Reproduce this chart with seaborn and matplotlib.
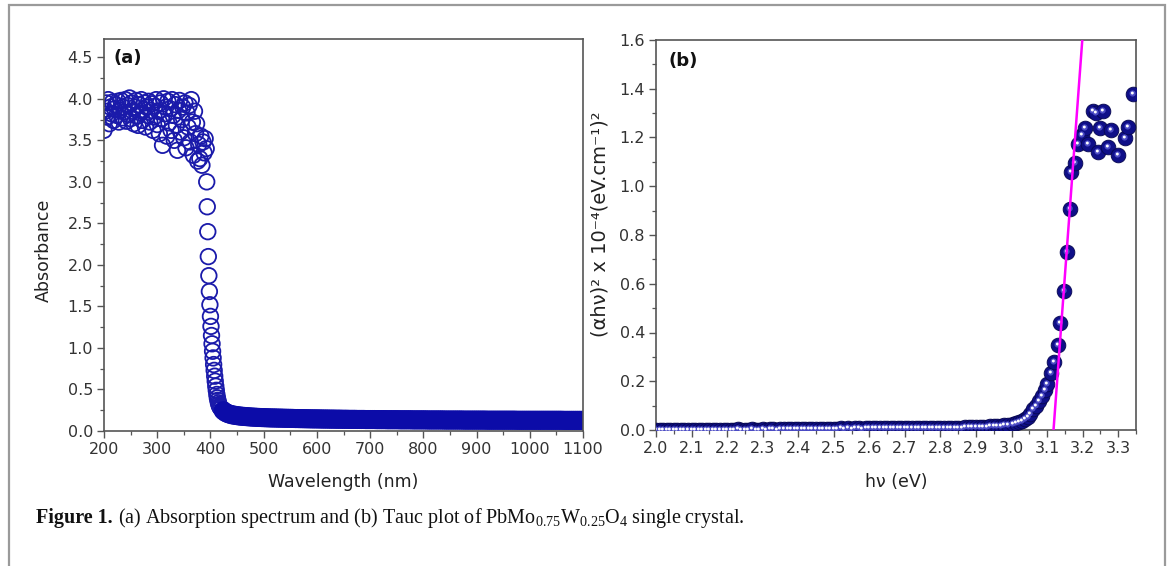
import numpy as np
import matplotlib
matplotlib.use("Agg")
import matplotlib.pyplot as plt
import seaborn as sns
from matplotlib.ticker import MultipleLocator, FormatStrFormatter
from matplotlib.path import Path
from matplotlib.patches import Rectangle

sns.set_style("ticks")
plt.rcParams['font.family'] = ['DejaVu Sans']

# ---- (a) absorption spectrum ----
plateau_nm = list(range(200, 393, 2))
plateau_abs = [3.62, 3.85, 3.95, 3.78, 3.99, 3.70, 3.90, 3.82, 3.96, 3.74,
               3.88, 3.93, 3.80, 3.97, 3.72, 3.86, 3.98, 3.77, 3.90, 3.84,
               3.99, 3.73, 3.92, 3.81, 4.01, 3.76, 3.95, 3.85, 3.70, 3.90,
               3.98, 3.79, 3.68, 3.93, 3.83, 3.99, 3.74, 3.87, 3.95, 3.66,
               3.90, 3.80, 3.97, 3.72, 3.86, 3.94, 3.62, 3.78, 3.91, 3.99,
               3.69, 3.85, 3.58, 3.95, 3.76, 3.44, 4.00, 3.82, 3.90, 3.55,
               3.97, 3.71, 3.88, 3.62, 3.99, 3.80, 3.50, 3.93, 3.68, 3.38,
               3.86, 3.98, 3.60, 3.75, 3.90, 3.53, 3.95, 3.41, 3.83, 3.66,
               3.92, 3.48, 3.99, 3.72, 3.32, 3.85, 3.58, 3.70, 3.25, 3.45,
               3.28, 3.55, 3.20, 3.48, 3.35, 3.52, 3.40]
edge_nm = list(range(393, 421))
edge_abs = [3.00, 2.70, 2.40, 2.10, 1.87, 1.68, 1.52, 1.38, 1.26, 1.15,
            1.05, 0.96, 0.88, 0.80, 0.73, 0.66, 0.60, 0.54, 0.49, 0.44,
            0.40, 0.37, 0.34, 0.32, 0.30, 0.29, 0.28, 0.27]
tail_nm = list(range(424, 1101, 4))
tail_abs = [0.245, 0.225, 0.212, 0.203, 0.196, 0.191, 0.187, 0.183, 0.180, 0.177,
            0.175, 0.173, 0.171, 0.169, 0.167, 0.166, 0.164, 0.163, 0.162, 0.161,
            0.160, 0.159, 0.158, 0.157, 0.157, 0.156, 0.155, 0.155, 0.154, 0.153,
            0.153, 0.152, 0.152, 0.151, 0.150, 0.150, 0.149, 0.149, 0.148, 0.148,
            0.147, 0.147, 0.146, 0.146, 0.146, 0.145, 0.145, 0.144, 0.144, 0.144,
            0.143, 0.143, 0.143, 0.142, 0.142, 0.142, 0.141, 0.141, 0.141, 0.140,
            0.140, 0.140, 0.140, 0.139, 0.139, 0.139, 0.139, 0.138, 0.138, 0.138,
            0.138, 0.138, 0.137, 0.137, 0.137, 0.137, 0.137, 0.136, 0.136, 0.136,
            0.136, 0.136, 0.136, 0.135, 0.135, 0.135, 0.135, 0.135, 0.135, 0.134,
            0.134, 0.134, 0.134, 0.134, 0.134, 0.134, 0.133, 0.133, 0.133, 0.133,
            0.133, 0.133, 0.133, 0.133, 0.132, 0.132, 0.132, 0.132, 0.132, 0.132,
            0.132, 0.132, 0.132, 0.131, 0.131, 0.131, 0.131, 0.131, 0.131, 0.131,
            0.131, 0.131, 0.131, 0.131, 0.130, 0.130, 0.130, 0.130, 0.130, 0.130,
            0.130, 0.130, 0.130, 0.130, 0.130, 0.130, 0.130, 0.130, 0.129, 0.129,
            0.129, 0.129, 0.129, 0.129, 0.129, 0.129, 0.129, 0.129, 0.129, 0.129,
            0.129, 0.129, 0.129, 0.129, 0.129, 0.129, 0.129, 0.129, 0.129, 0.129,
            0.128, 0.128, 0.128, 0.128, 0.128, 0.128, 0.128, 0.128, 0.128, 0.128]

# ---- (b) Tauc plot ----
low_ev = [round(2.0 + i / 100, 2) for i in range(100)]
low_tauc = [0.001, 0.001, 0.002, 0.001, 0.001, 0.002, 0.001, 0.002, 0.001, 0.002,
            0.002, 0.001, 0.002, 0.002, 0.001, 0.002, 0.002, 0.002, 0.001, 0.002,
            0.002, 0.002, 0.002, 0.003, 0.002, 0.002, 0.002, 0.003, 0.002, 0.002,
            0.003, 0.002, 0.003, 0.003, 0.002, 0.003, 0.003, 0.003, 0.003, 0.003,
            0.006, 0.006, 0.006, 0.006, 0.006, 0.006, 0.006, 0.006, 0.006, 0.006,
            0.006, 0.006, 0.007, 0.006, 0.007, 0.006, 0.007, 0.007, 0.006, 0.007,
            0.007, 0.007, 0.007, 0.007, 0.007, 0.007, 0.007, 0.008, 0.007, 0.007,
            0.008, 0.007, 0.008, 0.008, 0.008, 0.008, 0.008, 0.008, 0.008, 0.009,
            0.009, 0.009, 0.009, 0.009, 0.010, 0.010, 0.010, 0.011, 0.011, 0.011,
            0.012, 0.012, 0.013, 0.014, 0.015, 0.016, 0.017, 0.018, 0.019, 0.021]
rise_ev = [3.005, 3.013, 3.021, 3.029, 3.037, 3.045, 3.053, 3.061, 3.069, 3.077,
           3.085, 3.093, 3.101, 3.111, 3.120, 3.130, 3.136, 3.147, 3.155, 3.164,
           3.168, 3.179]
rise_tauc = [0.024, 0.028, 0.032, 0.038, 0.045, 0.054, 0.066, 0.085, 0.100, 0.118,
             0.140, 0.163, 0.190, 0.234, 0.280, 0.350, 0.440, 0.570, 0.730, 0.905,
             1.060, 1.094]
top_ev = [3.188, 3.197, 3.206, 3.216, 3.230, 3.238, 3.244, 3.248, 3.258, 3.270,
          3.280, 3.300, 3.318, 3.328, 3.342]
top_tauc = [1.175, 1.21, 1.24, 1.175, 1.31, 1.30, 1.14, 1.24, 1.31, 1.16,
            1.23, 1.13, 1.20, 1.245, 1.38]
energy = low_ev + rise_ev + top_ev
tauc = low_tauc + rise_tauc + top_tauc

fit_ev = [3.118, 3.205]
fit_tauc = [0.0, 1.72]

W, H = 1171, 566
fig = plt.figure(figsize=(W / 100, H / 100), dpi=100)
fig.patch.set_facecolor('white')
fig.patches.append(Rectangle((9 / W, -0.02), (1165 - 9) / W, 1.02 - 5 / H,
                             transform=fig.transFigure, fill=False,
                             edgecolor='#9a9a9a', linewidth=1.6))

ax1 = fig.add_axes([104 / W, 1 - 431 / H, 479 / W, 392 / H])
ax2 = fig.add_axes([656 / W, 1 - 430 / H, 480 / W, 390 / H])

blue = '#1a1aaa'
sns.scatterplot(x=plateau_nm + edge_nm, y=plateau_abs + edge_abs, ax=ax1, s=125,
                marker='o', facecolors='none', edgecolor=blue, linewidth=1.3)
# the dense flat tail merges into a solid band in the original
sns.scatterplot(x=tail_nm, y=tail_abs, ax=ax1, s=125, marker='o',
                facecolors='none', edgecolor='#0c0ca8', linewidth=2.6)

# shiny balls: dark body + offset glint markers
s_ball = 112
sns.scatterplot(x=energy, y=tauc, ax=ax2, s=s_ball, marker='o',
                color='#0f0f88', edgecolor='#07074f', linewidth=0.6, zorder=3)
t = np.linspace(0, 2 * np.pi, 40)
for (cx, cy, r, col) in [(-0.12, 0.14, 0.42, '#4b4bc4'), (-0.16, 0.2, 0.2, '#ffffff')]:
    verts = np.column_stack([cx + r * np.cos(t), cy + r * np.sin(t)])
    glint = Path(verts, closed=True)
    k = np.abs(verts).max()
    sns.scatterplot(x=energy, y=tauc, ax=ax2, s=s_ball * k ** 2, marker=glint,
                    color=col, linewidth=0, zorder=4)
sns.lineplot(x=fit_ev, y=fit_tauc, ax=ax2, color='#ff00ff', linewidth=1.8, zorder=5)

ax1.set_xlim(200, 1100)
ax1.set_ylim(0, 4.72)
ax1.xaxis.set_major_locator(MultipleLocator(100))
ax1.xaxis.set_minor_locator(MultipleLocator(50))
ax1.yaxis.set_major_locator(MultipleLocator(0.5))
ax1.yaxis.set_minor_locator(MultipleLocator(0.25))
ax1.yaxis.set_major_formatter(FormatStrFormatter('%.1f'))

ax2.set_xlim(2.0, 3.35)
ax2.set_ylim(0, 1.6)
ax2.xaxis.set_major_locator(MultipleLocator(0.1))
ax2.xaxis.set_minor_locator(MultipleLocator(0.05))
ax2.yaxis.set_major_locator(MultipleLocator(0.2))
ax2.yaxis.set_minor_locator(MultipleLocator(0.1))
ax2.xaxis.set_major_formatter(FormatStrFormatter('%.1f'))
ax2.yaxis.set_major_formatter(FormatStrFormatter('%.1f'))

for ax in (ax1, ax2):
    for sp in ax.spines.values():
        sp.set_visible(True)
        sp.set_color('#555555')
        sp.set_linewidth(1.2)
    ax.tick_params(which='major', direction='out', length=5, width=1.0,
                   color='#555555', labelsize=11.5, labelcolor='#333333', pad=3)
    ax.tick_params(which='minor', direction='out', length=3, width=0.9,
                   color='#555555')

ax1.set_xlabel('Wavelength (nm)', fontsize=12.5, color='#222222')
ax1.set_ylabel('Absorbance', fontsize=12.5, color='#222222')
ax1.xaxis.set_label_coords(0.5, -0.107)
ax1.yaxis.set_label_coords(-0.106, 0.462)
ax2.set_xlabel('h\u03bd (eV)', fontsize=12.5, color='#222222')
ax2.set_ylabel('(\u03b1h\u03bd)\u00b2 x 10\u207b\u2074(eV.cm\u207b\u00b9)\u00b2',
               fontsize=14, color='#222222')
ax2.xaxis.set_label_coords(0.5, -0.11)
ax2.yaxis.set_label_coords(-0.096, 0.528)

ax1.text(0.019, 0.952, '(a)', transform=ax1.transAxes, fontsize=13,
         fontweight='bold', va='center', ha='left', color='#111111')
ax2.text(0.025, 0.946, '(b)', transform=ax2.transAxes, fontsize=13,
         fontweight='bold', va='center', ha='left', color='#111111')

cap_y = 1 - 523 / H
t1 = fig.text(36 / W, cap_y, 'Figure 1.', fontsize=14.5, fontweight='bold',
              family='Liberation Serif', va='baseline', color='#111111')
plt.annotate('(a) Absorption spectrum and (b) Tauc plot of '
             'PbMo$\\mathregular{_{0.75}}$W$\\mathregular{_{0.25}}$O$\\mathregular{_4}$'
             ' single crystal.',
             xy=(1, cap_y), xycoords=(t1, 'figure fraction'),
             xytext=(4, 0), textcoords='offset points',
             fontsize=14.5, family='Liberation Serif', va='baseline',
             ha='left', color='#111111', annotation_clip=False)

fig.savefig('out.png', dpi=100, facecolor='white')
